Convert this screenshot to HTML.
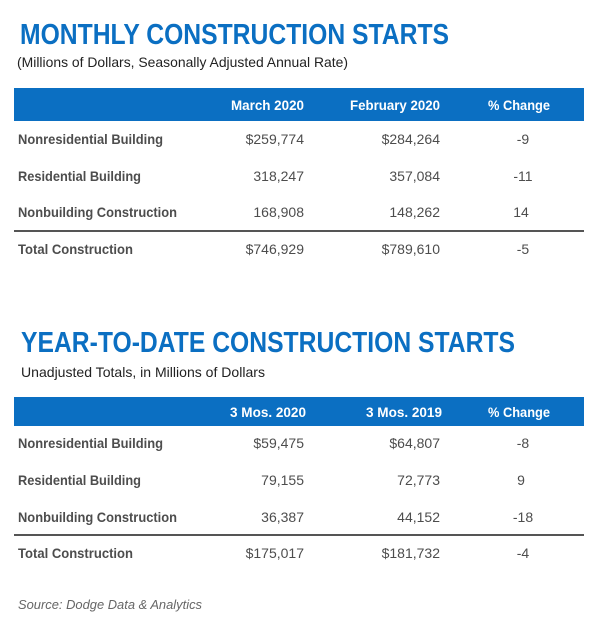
<!DOCTYPE html>
<html><head><meta charset="utf-8"><style>
html,body{margin:0;padding:0;background:#fff;}
svg{display:block;}
text{font-family:"Liberation Sans Narrow","Liberation Sans",sans-serif;}
.t{font-weight:bold;fill:#0b6fc2;font-size:29px;}
.s{fill:#222;font-size:14px;}
.h{fill:#fff;font-weight:bold;font-size:14px;}
.c{fill:#4d4d4d;font-size:14px;}
.cb{fill:#4d4d4d;font-size:14px;font-weight:bold;}
</style></head><body>
<svg width="600" height="635" viewBox="0 0 600 635" xmlns="http://www.w3.org/2000/svg">
<text class="t" x="20" y="44" textLength="429" lengthAdjust="spacingAndGlyphs">MONTHLY CONSTRUCTION STARTS</text>
<text class="s" x="17" y="67" textLength="331" lengthAdjust="spacingAndGlyphs">(Millions of Dollars, Seasonally Adjusted Annual Rate)</text>
<rect x="14" y="88" width="570" height="33" fill="#0b6fc2"/>
<text class="h" x="231" y="110" textLength="73" lengthAdjust="spacingAndGlyphs">March 2020</text>
<text class="h" x="350" y="110" textLength="90" lengthAdjust="spacingAndGlyphs">February 2020</text>
<text class="h" x="488" y="110" textLength="62" lengthAdjust="spacingAndGlyphs">% Change</text>
<text class="cb" x="18" y="144" textLength="145" lengthAdjust="spacingAndGlyphs">Nonresidential Building</text>
<text class="cb" x="18" y="181" textLength="123" lengthAdjust="spacingAndGlyphs">Residential Building</text>
<text class="cb" x="18" y="217" textLength="159" lengthAdjust="spacingAndGlyphs">Nonbuilding Construction</text>
<text class="cb" x="18" y="254" textLength="115" lengthAdjust="spacingAndGlyphs">Total Construction</text>
<g class="c" text-anchor="end">
<text x="304" y="144">$259,774</text><text x="440" y="144">$284,264</text>
<text x="304" y="181">318,247</text><text x="440" y="181">357,084</text>
<text x="304" y="217">168,908</text><text x="440" y="217">148,262</text>
<text x="304" y="254">$746,929</text><text x="440" y="254">$789,610</text>
</g>
<g class="c" text-anchor="middle">
<text x="523" y="144">-9</text><text x="523" y="181">-11</text><text x="521" y="217">14</text><text x="523" y="254">-5</text>
</g>
<rect x="14" y="230" width="570" height="2" fill="#555"/>

<text class="t" x="21" y="352" textLength="494" lengthAdjust="spacingAndGlyphs">YEAR-TO-DATE CONSTRUCTION STARTS</text>
<text class="s" x="21" y="377" textLength="244" lengthAdjust="spacingAndGlyphs">Unadjusted Totals, in Millions of Dollars</text>
<rect x="14" y="397" width="570" height="29" fill="#0b6fc2"/>
<text class="h" x="230" y="417" textLength="76" lengthAdjust="spacingAndGlyphs">3 Mos. 2020</text>
<text class="h" x="366" y="417" textLength="76" lengthAdjust="spacingAndGlyphs">3 Mos. 2019</text>
<text class="h" x="488" y="417" textLength="62" lengthAdjust="spacingAndGlyphs">% Change</text>
<text class="cb" x="18" y="448" textLength="145" lengthAdjust="spacingAndGlyphs">Nonresidential Building</text>
<text class="cb" x="18" y="485" textLength="123" lengthAdjust="spacingAndGlyphs">Residential Building</text>
<text class="cb" x="18" y="522" textLength="159" lengthAdjust="spacingAndGlyphs">Nonbuilding Construction</text>
<text class="cb" x="18" y="558" textLength="115" lengthAdjust="spacingAndGlyphs">Total Construction</text>
<g class="c" text-anchor="end">
<text x="304" y="448">$59,475</text><text x="440" y="448">$64,807</text>
<text x="304" y="485">79,155</text><text x="440" y="485">72,773</text>
<text x="304" y="522">36,387</text><text x="440" y="522">44,152</text>
<text x="304" y="558">$175,017</text><text x="440" y="558">$181,732</text>
</g>
<g class="c" text-anchor="middle">
<text x="523" y="448">-8</text><text x="521" y="485">9</text><text x="523" y="522">-18</text><text x="523" y="558">-4</text>
</g>
<rect x="14" y="534" width="570" height="2" fill="#555"/>
<text x="18" y="609" fill="#666" font-size="13" font-style="italic" textLength="184" lengthAdjust="spacingAndGlyphs">Source: Dodge Data &amp; Analytics</text>
</svg>
</body></html>
